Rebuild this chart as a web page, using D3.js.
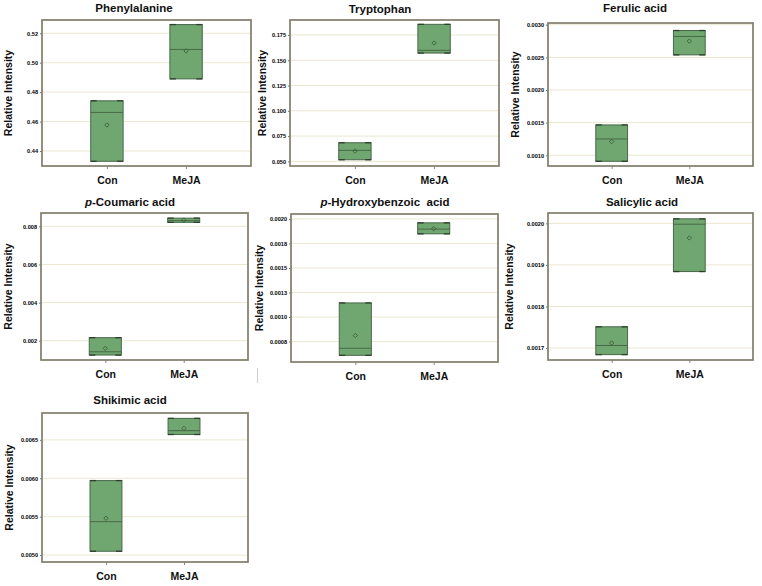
<!DOCTYPE html>
<html>
<head>
<meta charset="utf-8">
<script src="https://cdn.jsdelivr.net/npm/d3@7"></script>
<style>
  html, body { margin: 0; padding: 0; background: #fff; }
  svg { display: block; }
  text { font-family: "Liberation Sans", Arial, sans-serif; white-space: pre; }
</style>
</head>
<body>
<svg id="chart" width="762" height="586"></svg>
<script>
// ---------------- DATA ----------------
const categories = ["Con", "MeJA"];
const titles = ["Phenylalanine", "Tryptophan", "Ferulic acid", "p-Coumaric acid",
                "p-Hydroxybenzoic  acid", "Salicylic acid", "Shikimic acid"];
const italicPrefix = [false, false, false, true, true, false, false];

// box statistics: [Con, MeJA]
const boxLow    = [[0.4330, 0.4890], [0.0516, 0.1571], [0.000908, 0.002538], [0.00125, 0.00821],
                   [0.000610, 0.001848], [0.001684, 0.001884], [0.00505, 0.00657]];
const boxHigh   = [[0.4741, 0.5259], [0.0684, 0.1855], [0.001465, 0.002911], [0.00216, 0.00843],
                   [0.001144, 0.001960], [0.001751, 0.002011], [0.00597, 0.00678]];
const boxMedian = [[0.4662, 0.5090], [0.0609, 0.1598], [0.001250, 0.002820], [0.00142, 0.00830],
                   [0.000682, 0.001896], [0.001706, 0.001998], [0.005435, 0.00662]];
const boxMean   = [[0.4576, 0.5080], [0.0602, 0.1670], [0.001210, 0.002748], [0.00160, 0.00833],
                   [0.000811, 0.001900], [0.001712, 0.001965], [0.00548, 0.00665]];

const yDomains = [[0.4298, 0.5290], [0.0454, 0.1898], [0.000836, 0.003026], [0.00099, 0.00870],
                  [0.000542, 0.002050], [0.001671, 0.002025], [0.00491, 0.00685]];
const yTickValues = [[0.44, 0.46, 0.48, 0.50, 0.52],
                     [0.050, 0.075, 0.100, 0.125, 0.150, 0.175],
                     [0.0010, 0.0015, 0.0020, 0.0025, 0.0030],
                     [0.002, 0.004, 0.006, 0.008],
                     [0.00075, 0.0010, 0.00125, 0.0015, 0.00175, 0.0020],
                     [0.0017, 0.0018, 0.0019, 0.0020],
                     [0.0050, 0.0055, 0.0060, 0.0065]];
const yTickLabels = [["0.44", "0.46", "0.48", "0.50", "0.52"],
                     ["0.050", "0.075", "0.100", "0.125", "0.150", "0.175"],
                     ["0.0010", "0.0015", "0.0020", "0.0025", "0.0030"],
                     ["0.002", "0.004", "0.006", "0.008"],
                     ["0.0008", "0.0010", "0.0013", "0.0015", "0.0018", "0.0020"],
                     ["0.0017", "0.0018", "0.0019", "0.0020"],
                     ["0.0050", "0.0055", "0.0060", "0.0065"]];
const yAxisTitle = "Relative Intensity";

// ---------------- LAYOUT ----------------
const frames = [
  {x0: 42,  y0: 20,  x1: 251, y1: 166, tx: 134, ty: 12,  lx: 8},
  {x0: 290, y0: 20,  x1: 499, y1: 166, tx: 380, ty: 13,  lx: 262},
  {x0: 548, y0: 23,  x1: 753, y1: 166, tx: 635, ty: 12,  lx: 515},
  {x0: 41,  y0: 213, x1: 248, y1: 360, tx: 130, ty: 206, lx: 8},
  {x0: 291, y0: 214, x1: 498, y1: 362, tx: 385, ty: 206, lx: 259},
  {x0: 548, y0: 213, x1: 753, y1: 360, tx: 642, ty: 206, lx: 509},
  {x0: 42,  y0: 413, x1: 248, y1: 562, tx: 130, ty: 404, lx: 9}
];

const svg = d3.select("#chart");
const boxFill = "#70a770", boxStroke = "#486848", capStroke = "#2f3f2f";
const frameColor = "#827d6c", gridColor = "#ebe7d2";

titles.forEach((title, i) => {
  const f = frames[i];
  const g = svg.append("g");
  const x = d3.scalePoint().domain(categories).range([f.x0, f.x1]).padding(0.82);
  const y = d3.scaleLinear().domain(yDomains[i]).range([f.y1, f.y0]);
  const bw = (f.x1 - f.x0) * 0.155;

  // gridlines
  g.selectAll(".grid").data(yTickValues[i]).join("line")
    .attr("x1", f.x0).attr("x2", f.x1)
    .attr("y1", d => y(d)).attr("y2", d => y(d))
    .attr("stroke", gridColor).attr("stroke-width", 1);

  // y axis
  const yAxis = d3.axisLeft(y).tickValues(yTickValues[i])
    .tickFormat((d, k) => yTickLabels[i][k]).tickSize(2).tickPadding(2);
  const ya = g.append("g").attr("transform", `translate(${f.x0},0)`).call(yAxis);
  ya.select(".domain").remove();
  ya.selectAll("line").attr("stroke", "#777");
  ya.selectAll("text").attr("font-size", 5.6).attr("font-weight", "bold")
    .attr("fill", "#000").attr("font-family", "Liberation Sans, Arial, sans-serif");

  // x axis
  const xAxis = d3.axisBottom(x).tickSize(3).tickPadding(8);
  const xa = g.append("g").attr("transform", `translate(0,${f.y1})`).call(xAxis);
  xa.select(".domain").remove();
  xa.selectAll("line").attr("stroke", "#888");
  xa.selectAll("text").attr("font-size", 10.5).attr("font-weight", "bold")
    .attr("fill", "#111").attr("font-family", "Liberation Sans, Arial, sans-serif");

  // boxes
  categories.forEach((c, j) => {
    const cx = x(c);
    const yt = y(boxHigh[i][j]), yb = y(boxLow[i][j]);
    g.append("rect")
      .attr("x", cx - bw / 2).attr("y", yt)
      .attr("width", bw).attr("height", Math.max(1, yb - yt))
      .attr("fill", boxFill).attr("stroke", boxStroke).attr("stroke-width", 1);
    // caps at corners
    [yt, yb].forEach(yy => {
      [[cx - bw / 2, cx - bw / 2 + 6], [cx + bw / 2 - 6, cx + bw / 2]].forEach(([a, b]) => {
        g.append("line").attr("x1", a).attr("x2", b).attr("y1", yy).attr("y2", yy)
          .attr("stroke", capStroke).attr("stroke-width", 1.3);
      });
    });
    // median
    g.append("line")
      .attr("x1", cx - bw / 2).attr("x2", cx + bw / 2)
      .attr("y1", y(boxMedian[i][j])).attr("y2", y(boxMedian[i][j]))
      .attr("stroke", boxStroke).attr("stroke-width", 1);
    // mean diamond
    const my = y(boxMean[i][j]), s = 2.2;
    g.append("path")
      .attr("d", `M${cx},${my - s}L${cx + s},${my}L${cx},${my + s}L${cx - s},${my}Z`)
      .attr("fill", "none").attr("stroke", "#3f5f3f").attr("stroke-width", 0.9);
  });

  // frame
  g.append("rect")
    .attr("x", f.x0).attr("y", f.y0)
    .attr("width", f.x1 - f.x0).attr("height", f.y1 - f.y0)
    .attr("fill", "none").attr("stroke", frameColor).attr("stroke-width", 1.7);

  // title
  const t = g.append("text").attr("x", f.tx).attr("y", f.ty)
    .attr("text-anchor", "middle").attr("font-size", 11.5).attr("font-weight", "bold")
    .attr("fill", "#111");
  if (italicPrefix[i]) {
    t.append("tspan").attr("font-style", "italic").text(title.slice(0, 1));
    t.append("tspan").text(title.slice(1));
  } else {
    t.text(title);
  }

  // y axis title
  const cy = (f.y0 + f.y1) / 2;
  g.append("text")
    .attr("transform", `translate(${f.lx + 4},${cy}) rotate(-90)`)
    .attr("text-anchor", "middle").attr("font-size", 10.5).attr("font-weight", "bold")
    .attr("fill", "#111").text(yAxisTitle);
});

// small scan artifact line
svg.append("line").attr("x1", 257.5).attr("x2", 257.5).attr("y1", 368).attr("y2", 383)
  .attr("stroke", "#ccc").attr("stroke-width", 1);
</script>
</body>
</html>
